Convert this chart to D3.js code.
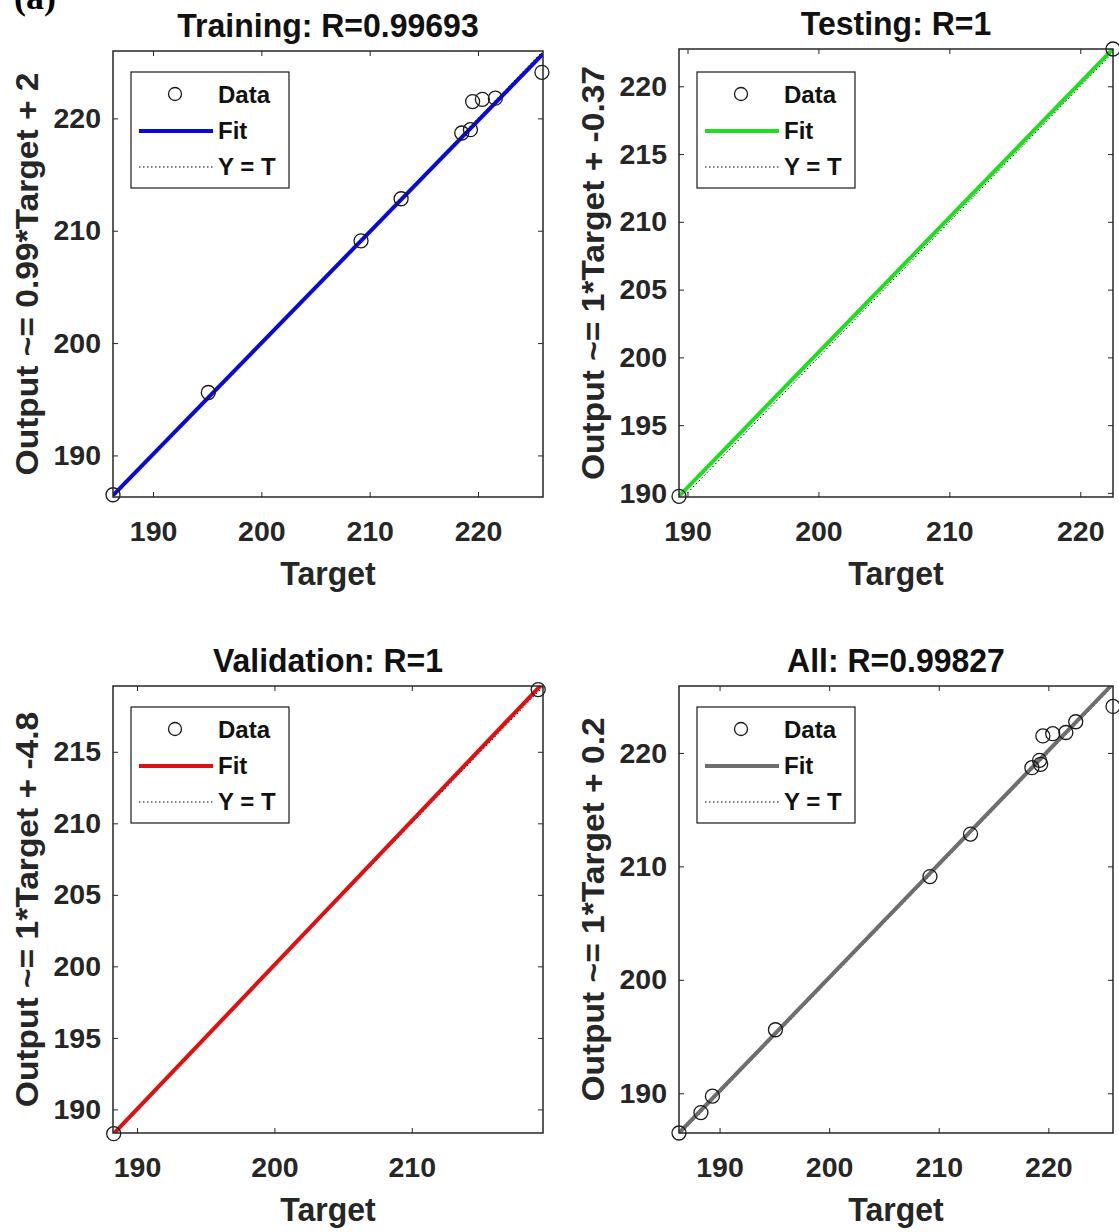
<!DOCTYPE html>
<html>
<head>
<meta charset="utf-8">
<script src="https://cdn.jsdelivr.net/npm/d3@7"></script>
<style>
  html, body { margin: 0; padding: 0; background: #fff; }
  svg { display: block; }
  text { font-family: "Liberation Sans", Arial, sans-serif; font-weight: bold; }
</style>
</head>
<body>
<svg id="chart" width="1119" height="1232"></svg>
<script>
// ---------------- data ----------------
const panelTitles = ["Training: R=0.99693", "Testing: R=1", "Validation: R=1", "All: R=0.99827"];
const yAxisLabels = ["Output ~= 0.99*Target + 2", "Output ~= 1*Target + -0.37", "Output ~= 1*Target + -4.8", "Output ~= 1*Target + 0.2"];
const xAxisLabel = "Target";
const legendLabels = ["Data", "Fit", "Y = T"];

const trainingTarget = [186.3, 195.1, 209.2, 212.9, 218.5, 219.3, 219.5, 220.4, 221.6, 225.9];
const trainingOutput = [186.5, 195.6, 209.1, 212.85, 218.7, 219.0, 221.5, 221.7, 221.8, 224.1];
const testingTarget = [189.35, 222.5];
const testingOutput = [189.75, 222.75];
const validationTarget = [188.3, 219.2];
const validationOutput = [188.3, 219.35];

const fitSlope = [0.99, 0.9955, 1.008, 1.0];
const fitIntercept = [2.0, 1.256, -1.506, 0.2];

const xDomains = [[186.3, 226.0], [189.35, 222.5], [188.25, 219.55], [186.3, 225.9]];
const yDomains = [[186.3, 226.0], [189.7, 222.75], [188.35, 219.6], [186.5, 225.9]];
const xTickValues = [[190, 200, 210, 220], [190, 200, 210, 220], [190, 200, 210], [190, 200, 210, 220]];
const yTickValues = [[190, 200, 210, 220], [190, 195, 200, 205, 210, 215, 220], [190, 195, 200, 205, 210, 215], [190, 200, 210, 220]];

const fitColors = ["#0a0ad8", "#1de01d", "#e01010", "#6e6e6e"];

// ---------------- layout ----------------
const boxes = [
  {l: 113, t: 51, r: 543, b: 497},
  {l: 679, t: 49, r: 1113, b: 497},
  {l: 113, t: 686, r: 543, b: 1133},
  {l: 679, t: 686, r: 1113, b: 1133}
];

const allTarget = trainingTarget.concat(testingTarget, validationTarget);
const allOutput = trainingOutput.concat(testingOutput, validationOutput);
const targets = [trainingTarget, testingTarget, validationTarget, allTarget];
const outputs = [trainingOutput, testingOutput, validationOutput, allOutput];

const svg = d3.select("#chart");
svg.append("rect").attr("width", 1119).attr("height", 1232).attr("fill", "#fff");

// panel label (cut at top, as in the reference)
svg.append("text").attr("x", 14).attr("y", 9)
  .style("font-family", "'Liberation Serif', 'Times New Roman', serif")
  .style("font-size", "36px").attr("fill", "#000").text("(a)");

const axisColor = "#262626";

boxes.forEach((bx, i) => {
  const x = d3.scaleLinear().domain(xDomains[i]).range([bx.l, bx.r]);
  const y = d3.scaleLinear().domain(yDomains[i]).range([bx.b, bx.t]);
  const g = svg.append("g");
  const clipId = "clip" + i;
  svg.append("clipPath").attr("id", clipId).append("rect")
    .attr("x", bx.l).attr("y", bx.t).attr("width", bx.r - bx.l).attr("height", bx.b - bx.t);

  const styleAxis = (sel) => {
    sel.attr("font-family", null).attr("font-size", null);
    sel.select(".domain").remove();
    sel.selectAll(".tick line").attr("stroke", axisColor).attr("stroke-width", 1);
    sel.selectAll(".tick text").attr("fill", axisColor).style("font-size", "28.5px").style("font-weight", "bold");
  };
  g.append("g").attr("transform", `translate(0,${bx.b})`)
    .call(d3.axisBottom(x).tickValues(xTickValues[i]).tickSize(-5).tickPadding(24).tickFormat(d3.format("d")))
    .call(styleAxis);
  g.append("g").attr("transform", `translate(${bx.l},0)`)
    .call(d3.axisLeft(y).tickValues(yTickValues[i]).tickSize(-5).tickPadding(12).tickFormat(d3.format("d")))
    .call(styleAxis);
  g.append("g").attr("transform", `translate(0,${bx.t})`)
    .call(d3.axisTop(x).tickValues(xTickValues[i]).tickSize(-5).tickFormat(""))
    .call(styleAxis);
  g.append("g").attr("transform", `translate(${bx.r},0)`)
    .call(d3.axisRight(y).tickValues(yTickValues[i]).tickSize(-5).tickFormat(""))
    .call(styleAxis);

  // Y = T dotted line
  const lo = Math.max(xDomains[i][0], yDomains[i][0]) - 5;
  const hi = Math.min(xDomains[i][1], yDomains[i][1]) + 5;
  const lineGen = d3.line().x(d => x(d[0])).y(d => y(d[1]));
  g.append("path").attr("clip-path", `url(#${clipId})`)
    .attr("d", lineGen([[lo, lo], [hi, hi]]))
    .attr("stroke", "#000").attr("stroke-width", 1).attr("stroke-dasharray", "1.5,2.5").attr("fill", "none");

  // fit line
  const fx0 = xDomains[i][0], fx1 = xDomains[i][1];
  g.append("path").attr("clip-path", `url(#${clipId})`)
    .attr("d", lineGen([[fx0, fitSlope[i] * fx0 + fitIntercept[i]], [fx1, fitSlope[i] * fx1 + fitIntercept[i]]]))
    .attr("stroke", fitColors[i]).attr("stroke-width", 4).attr("fill", "none");

  // data circles
  g.selectAll("circle.pt").data(d3.range(targets[i].length)).enter().append("circle")
    .attr("class", "pt")
    .attr("cx", k => x(targets[i][k])).attr("cy", k => y(outputs[i][k]))
    .attr("r", 7).attr("fill", "none").attr("stroke", "#1a1a1a").attr("stroke-width", 1.3);

  // box
  g.append("rect").attr("x", bx.l).attr("y", bx.t).attr("width", bx.r - bx.l).attr("height", bx.b - bx.t)
    .attr("fill", "none").attr("stroke", axisColor).attr("stroke-width", 1.5);

  // title
  g.append("text").attr("transform", `translate(${(bx.l + bx.r) / 2},${bx.t - 14}) scale(1,1.05)`)
    .attr("text-anchor", "middle").style("font-size", "32px").attr("fill", "#111").text(panelTitles[i]);
  // x label
  g.append("text").attr("transform", `translate(${(bx.l + bx.r) / 2},${bx.b + 88}) scale(1,1.05)`)
    .attr("text-anchor", "middle").style("font-size", "32px").attr("fill", axisColor).text(xAxisLabel);
  // y label
  const ylx = bx.l - 75, yly = (bx.t + bx.b) / 2;
  g.append("text").attr("transform", `translate(${ylx},${yly}) rotate(-90) scale(1.1,1)`)
    .attr("text-anchor", "middle").style("font-size", "30.5px").attr("fill", axisColor).text(yAxisLabels[i]);

  // legend
  const lx = bx.l + 18, ly = bx.t + 21 + (i === 1 ? 2 : 0);
  const lg = g.append("g").attr("transform", `translate(${lx},${ly})`);
  lg.append("rect").attr("x", 0).attr("y", 0).attr("width", 158).attr("height", 116)
    .attr("fill", "#fff").attr("stroke", "#1a1a1a").attr("stroke-width", 1.2);
  const rows = [23, 59, 95];
  lg.append("circle").attr("cx", 44).attr("cy", rows[0] - 1).attr("r", 6.5)
    .attr("fill", "none").attr("stroke", "#1a1a1a").attr("stroke-width", 1.3);
  lg.append("line").attr("x1", 8).attr("x2", 82).attr("y1", rows[1]).attr("y2", rows[1])
    .attr("stroke", fitColors[i]).attr("stroke-width", 4);
  lg.append("line").attr("x1", 8).attr("x2", 82).attr("y1", rows[2]).attr("y2", rows[2])
    .attr("stroke", "#000").attr("stroke-width", 1).attr("stroke-dasharray", "1.5,2.5");
  legendLabels.forEach((t, k) => {
    lg.append("text").attr("x", 87).attr("y", rows[k] + 8)
      .style("font-size", "24px").attr("fill", "#111").text(t);
  });
});
</script>
</body>
</html>
